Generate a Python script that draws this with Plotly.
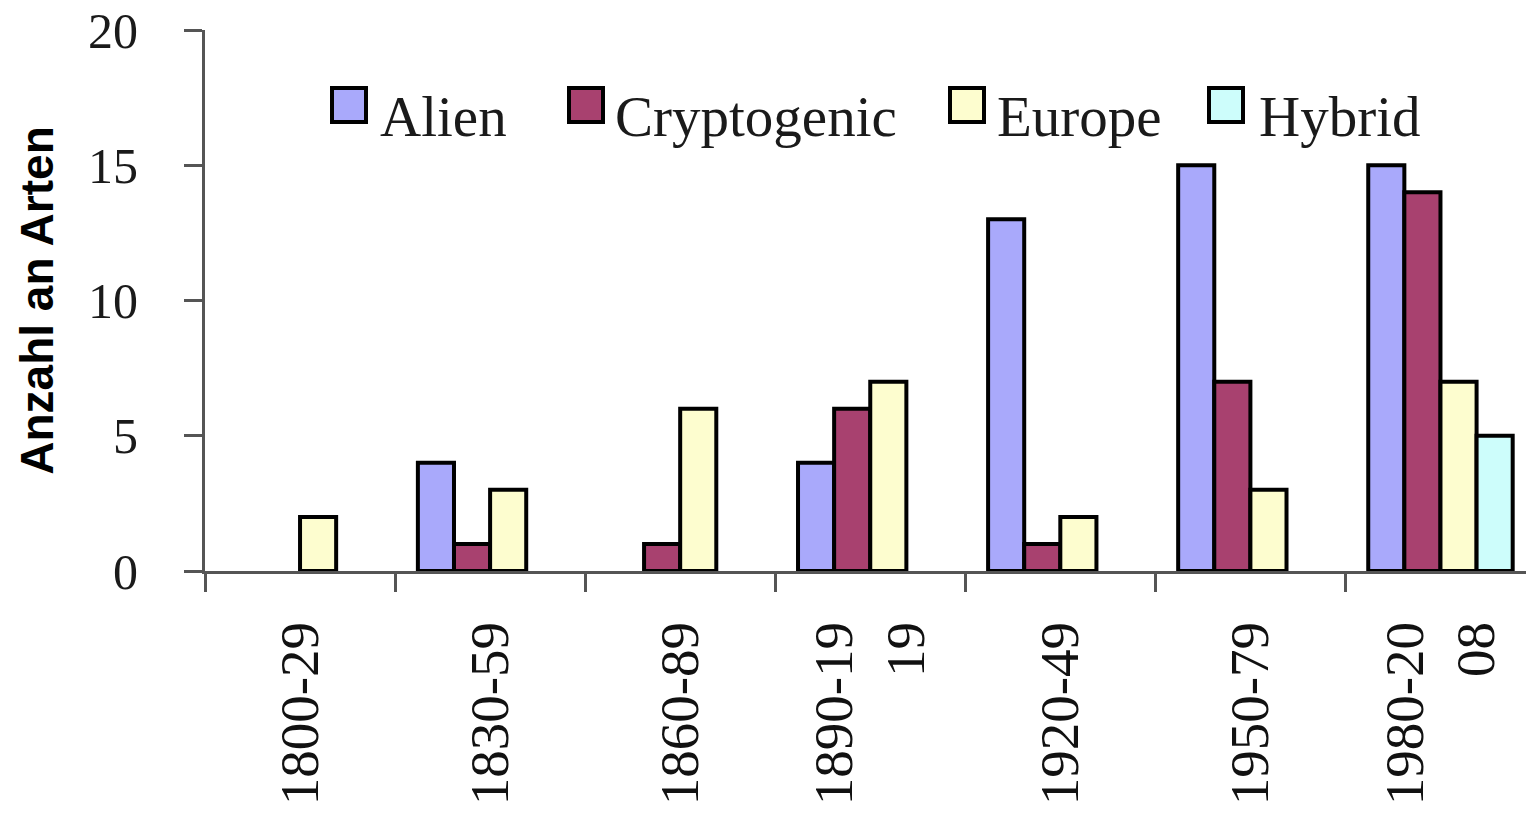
import plotly.graph_objects as go

# Zeitraum der Erstnachweise
periods = ["1800-29", "1830-59", "1860-89", "1890-19<br>19", "1920-49", "1950-79", "1980-20<br>08"]

# Anzahl an Arten je Herkunftsgruppe (None = keine Art)
alien = [None, 4, None, 4, 13, 15, 15]
cryptogenic = [None, 1, 1, 6, 1, 7, 14]
europe = [2, 3, 6, 7, 2, 3, 7]
hybrid = [None, None, None, None, None, None, 5]

series_names = ["Alien", "Cryptogenic", "Europe", "Hybrid"]
series_values = [alien, cryptogenic, europe, hybrid]
series_colors = ["#a9a9fb", "#a8416f", "#fdfdcf", "#cdfdfb"]

y_ticks = [0, 5, 10, 15, 20]

W, H = 1526, 813
ML, MR, MT, MB = 205, 0, 30, 242

fig = go.Figure()
for name, vals, col in zip(series_names, series_values, series_colors):
    fig.add_trace(go.Bar(
        x=periods, y=vals, name=name,
        marker=dict(color=col, line=dict(color="#000000", width=4)),
        showlegend=False,
    ))

serif = "Liberation Serif, Times New Roman, serif"
axis_col = "#555555"

fig.update_layout(
    width=W, height=H,
    margin=dict(l=ML, r=MR, t=MT, b=MB, autoexpand=False),
    paper_bgcolor="white", plot_bgcolor="white",
    barmode="group", bargap=0.24, bargroupgap=0,
    xaxis=dict(
        type="category", range=[-0.5, 6.45],
        showgrid=False, zeroline=False,
        showline=True, linecolor=axis_col, linewidth=3,
        ticks="outside", tickson="boundaries", ticklen=18, tickwidth=3, tickcolor=axis_col,
        tickangle=-90, tickfont=dict(family=serif, size=55, color="#111111"),
        ticklabelstandoff=26, automargin=False,
    ),
    yaxis=dict(
        range=[0, 20], tickvals=y_ticks,
        showgrid=False, zeroline=False,
        showline=True, linecolor=axis_col, linewidth=3,
        ticks="outside", ticklen=18, tickwidth=3, tickcolor=axis_col,
        tickfont=dict(family=serif, size=50, color="#1a1a1a"),
        ticklabelstandoff=36, ticklabeloverflow="allow", automargin=False,
        title=dict(text="Anzahl an Arten", standoff=20,
                   font=dict(family="Liberation Sans, Arial, sans-serif", size=46,
                             color="black", weight="bold")),
    ),
)

# Legende oben im Diagramm: Farbfelder mit Beschriftung
pw, ph = W - ML - MR, H - MT - MB


def px_x(v):
    return (v - ML) / pw


def px_y(v):
    return (H - MB - v) / ph


swatch_left = [332, 569, 950, 1209]
label_left = [378, 613, 995, 1257]
sw = 34
sw_top = 88
for name, col, sx, tx in zip(series_names, series_colors, swatch_left, label_left):
    fig.add_shape(type="rect", xref="paper", yref="paper",
                  x0=px_x(sx), x1=px_x(sx + sw), y0=px_y(sw_top + sw), y1=px_y(sw_top),
                  fillcolor=col, line=dict(color="#000000", width=4))
    fig.add_annotation(text=name, xref="paper", yref="paper",
                       x=px_x(tx), y=px_y(116), xanchor="left", yanchor="middle",
                       showarrow=False, font=dict(family=serif, size=57, color="#1a1a1a"))

fig.write_html("out.html")
